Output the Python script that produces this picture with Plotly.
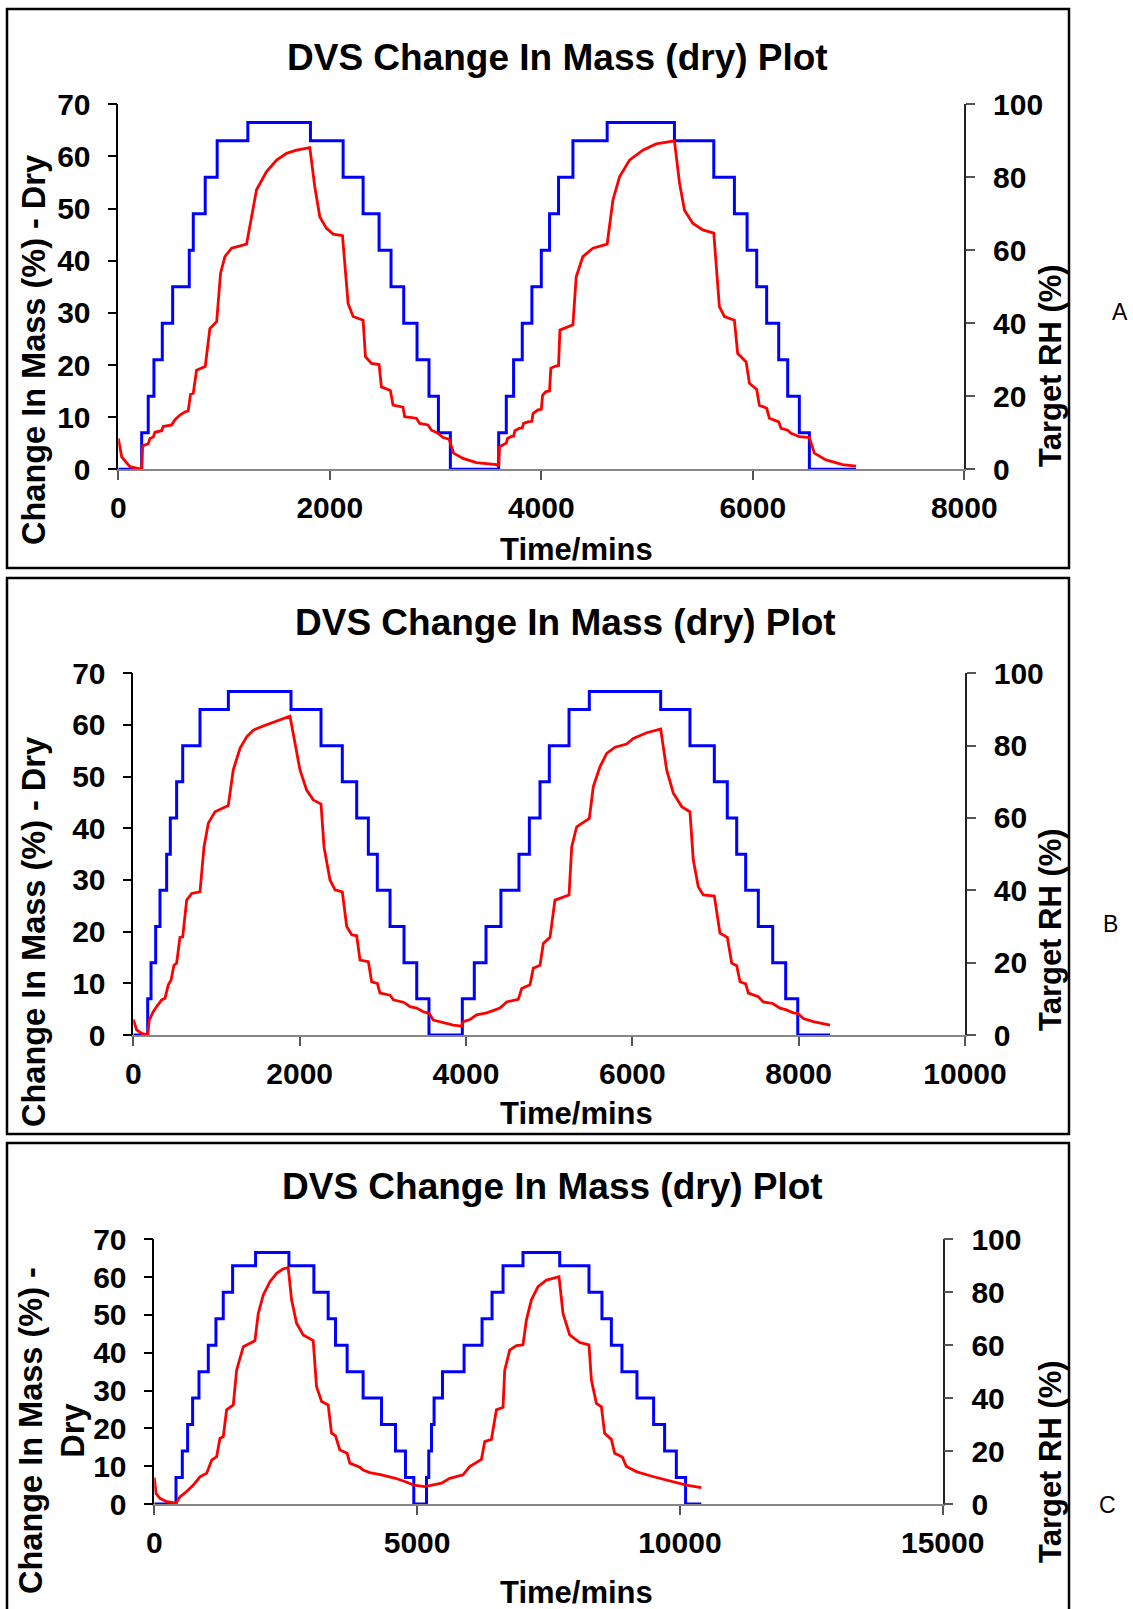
import plotly.graph_objects as go

W, H = 1133, 1609

RH_LEVELS = [0, 10, 20, 30, 40, 50, 60, 70, 80, 90, 95, 90, 80, 70, 60, 50, 40, 30, 20, 10,
             0, 10, 20, 30, 40, 50, 60, 70, 80, 90, 95, 90, 80, 70, 60, 50, 40, 30, 20, 10, 0, 0]

# ---------------- Panel A ----------------
a_rh_time = [0, 221, 283, 337, 416, 514, 671, 709, 822, 935, 1225, 1817, 2126, 2315, 2466, 2579,
             2699, 2825, 2938, 3027, 3140, 3597, 3669, 3738, 3820, 3911, 4000, 4078, 4163, 4299,
             4623, 5259, 5631, 5826, 5946, 6037, 6131, 6245, 6330, 6440, 6535, 6976]
a_rh = RH_LEVELS
a_mass_time = [0, 32, 110, 221, 230, 284, 299, 331, 347, 410, 425, 504, 536, 583, 630, 661, 683,
               709, 740, 822, 866, 930, 967, 1008, 1071, 1213, 1260, 1307, 1402, 1497, 1591, 1685,
               1811, 1858, 1906, 1969, 2032, 2120, 2173, 2220, 2315, 2337, 2394, 2466, 2488, 2573,
               2598, 2692, 2708, 2819, 2850, 2929, 2961, 3024, 3071, 3127, 3171, 3260, 3386, 3575,
               3597, 3605, 3656, 3669, 3680, 3717, 3738, 3750, 3795, 3820, 3832, 3873, 3911, 3922,
               3968, 4000, 4012, 4043, 4078, 4090, 4137, 4163, 4176, 4299, 4330, 4393, 4488,
               4623, 4677, 4740, 4834, 4960, 5086, 5259, 5307, 5354, 5432, 5527, 5631, 5684, 5732,
               5826, 5857, 5937, 5968, 6037, 6062, 6131, 6157, 6245, 6267, 6330, 6362, 6440, 6535,
               6582, 6692, 6849, 6976]
a_mass = [5.9, 2.4, 0.5, 0.0, 4.5, 4.9, 5.9, 6.2, 7.1, 7.4, 8.2, 8.5, 9.5, 10.4, 11.0, 11.2, 14.4,
          14.6, 19.0, 19.7, 27.0, 28.3, 37.6, 40.8, 42.4, 43.2, 48.4, 53.6, 57.1, 59.3, 60.6, 61.2,
          61.7, 54.2, 48.4, 46.2, 45.1, 44.8, 31.8, 29.3, 28.6, 21.6, 20.3, 20.1, 15.8, 15.1,
          12.3, 11.9, 10.1, 9.8, 8.8, 8.5, 7.5, 6.9, 6.1, 5.8, 3.1, 2.1, 1.3, 0.9,
          0.6, 4.3, 4.9, 5.0, 5.9, 6.3, 6.35, 7.4, 7.9, 7.95, 8.8, 9.1, 9.2, 10.7,
          11.4, 11.5, 14.2, 14.9, 15.0, 19.4, 19.8, 19.9, 26.7, 27.7, 36.9, 40.8, 42.4,
          43.2, 51.6, 56.1, 59.3, 61.2, 62.4, 63.0, 54.9, 49.7, 47.2, 45.9, 45.3, 31.2, 29.3,
          28.6, 22.2, 20.6, 16.5, 15.3, 12.3, 11.7, 9.8, 9.1, 7.85, 7.5, 6.9, 6.25, 6.1,
          3.1, 1.8, 0.9, 0.6]

# ---------------- Panel B ----------------
b_rh_time = [0, 173, 213, 269, 321, 401, 445, 521, 594, 802, 1143, 1896, 2257, 2513, 2686, 2826,
             2934, 3087, 3255, 3408, 3555, 3956, 4100, 4241, 4420, 4637, 4762, 4890, 5002, 5239,
             5483, 6341, 6693, 6986, 7142, 7255, 7363, 7515, 7688, 7844, 7989, 8377]
b_rh = RH_LEVELS
b_mass_time = [0, 40, 101, 173, 192, 240, 281, 341, 381, 421, 453, 489, 521, 561, 594, 642, 702,
               802, 850, 902, 982, 1142, 1202, 1283, 1363, 1443, 1563, 1643, 1763, 1884, 1944,
               2004, 2084, 2164, 2257, 2293, 2365, 2425, 2513, 2566, 2626, 2686, 2726, 2826, 2866,
               2934, 2966, 3087, 3127, 3255, 3327, 3407, 3487, 3555, 3607, 3727, 3847, 3948, 3968,
               4048, 4128, 4249, 4329, 4409, 4489, 4629, 4670, 4770, 4809, 4890, 4930, 5010, 5070,
               5239, 5271, 5331, 5483, 5531, 5611, 5692, 5792, 5932, 6012, 6173, 6341, 6413, 6493,
               6594, 6693, 6733, 6793, 6853, 6986, 7054, 7142, 7195, 7255, 7295, 7363, 7395, 7515,
               7575, 7688, 7775, 7844, 7935, 7989, 8056, 8176, 8377]
b_mass = [3.0, 1.0, 0.3, 0.0, 2.9, 4.5, 5.5, 6.8, 7.1, 9.7, 10.6, 13.5, 13.9, 18.9, 19.0, 26.1, 27.4,
          27.7, 36.4, 41.0, 43.2, 44.4, 51.3, 55.5, 57.7, 59.0, 59.8, 60.3, 61.1, 61.7, 56.5,
          51.3, 47.4, 45.5, 44.7, 36.4, 30.0, 28.1, 27.7, 21.0, 19.4, 19.2, 14.5, 14.2, 10.3,
          10.0, 8.1, 7.7, 6.8, 6.3, 5.5, 5.2, 4.5, 4.2, 2.9, 2.4, 1.9, 1.7, 2.6,
          3.0, 3.9, 4.3, 4.8, 5.2, 6.4, 6.9, 9.0, 9.7, 12.9, 13.5, 17.7, 18.9, 26.1,
          27.1, 36.4, 40.3, 41.9, 48.1, 51.9, 54.5, 55.7, 56.3, 57.4, 58.5, 59.2, 51.3, 46.8,
          44.2, 43.2, 33.9, 28.7, 27.1, 26.9, 19.7, 18.9, 13.9, 13.4, 10.3, 9.9, 8.1, 7.4,
          6.4, 6.1, 5.2, 4.9, 4.3, 4.2, 3.2, 2.6, 1.9]

# ---------------- Panel C ----------------
c_rh_time = [0, 413, 533, 634, 729, 850, 1027, 1173, 1312, 1490, 1927, 2561, 3036, 3308, 3448, 3669,
             3973, 4323, 4589, 4779, 4937, 5179, 5222, 5274, 5323, 5483, 5894, 6236, 6426, 6635,
             7015, 7713, 8270, 8517, 8696, 8897, 9183, 9500, 9709, 9932, 10108, 10407]
c_rh = RH_LEVELS
c_mass_time = [0, 32, 108, 235, 413, 489, 616, 742, 869, 996, 1091, 1186, 1249, 1312, 1376, 1503,
               1566, 1693, 1915, 1978, 2073, 2200, 2327, 2452, 2548, 2612, 2707, 2833, 3023, 3087,
               3183, 3308, 3372, 3448, 3530, 3669, 3720, 3910, 3973, 4100, 4323, 4589, 4779, 4937,
               5146, 5463, 5621, 5874, 6001, 6224, 6287, 6414, 6509, 6635, 6667, 6762, 6889, 7015,
               7080, 7175, 7300, 7460, 7700, 7776, 7903, 8093, 8270, 8316, 8411, 8506, 8568, 8696,
               8759, 8905, 8981, 9183, 9500, 9741, 10122, 10407]
c_mass = [7.0, 2.8, 1.5, 0.6, 0.2, 1.9, 3.3, 5.0, 7.2, 8.1, 11.6, 12.5, 17.4, 17.8, 24.9, 26.2,
          35.4, 41.6, 43.2, 50.4, 55.3, 58.8, 61.0, 62.2, 62.5, 54.0, 47.8, 44.7, 43.2, 31.0,
          27.1, 26.2, 18.7, 18.0, 14.3, 13.4, 10.8, 9.7, 9.0, 8.3, 7.7, 6.8, 5.9, 5.0,
          4.6, 5.5, 6.8, 7.7, 9.9, 11.8, 16.5, 17.1, 24.9, 25.6, 35.4, 40.7, 41.9, 42.1,
          48.7, 54.0, 57.5, 59.2, 60.1, 50.4, 44.7, 42.7, 42.1, 32.8, 26.6, 25.7, 18.7, 17.1,
          13.4, 12.4, 9.9, 8.5, 7.2, 6.3, 5.0, 4.3]

TITLE = "DVS Change In Mass (dry) Plot"
X_TITLE = "Time/mins"
Y2_TITLE = "Target RH (%)"
LETTERS = ["A", "B", "C"]
X_MAX = [8000, 10000, 15000]
X_DTICK = [2000, 2000, 5000]
Y_TITLES = ["Change In Mass (%) - Dry", "Change In Mass (%) - Dry", "Change In Mass (%) -<br>Dry"]

# ---------------- layout geometry (pixels) ----------------
layout_px = [
    dict(plot=(118.3, 104.3, 964.3, 469.3), box=(7, 9, 1069, 568), title=(557, 58),
         xtitle=(576, 549), ytitle=(34, 350), y2title=(1050, 366), letter=(1120, 312)),
    dict(plot=(133.3, 673.3, 965.0, 1035.0), box=(7, 578, 1069, 1134), title=(565, 622),
         xtitle=(576, 1113), ytitle=(34, 932), y2title=(1050, 930), letter=(1110, 924)),
    dict(plot=(154.3, 1239.3, 942.7, 1504.0), box=(7, 1143, 1069, 1625), title=(552, 1186),
         xtitle=(576, 1592), ytitle=(52, 1431), y2title=(1050, 1462), letter=(1107, 1505)),
]

FONT = "Liberation Sans, Arial, sans-serif"


def fx(x):
    return x / W


def fy(y):
    return 1 - y / H


series = [(a_rh_time, a_rh, a_mass_time, a_mass),
          (b_rh_time, b_rh, b_mass_time, b_mass),
          (c_rh_time, c_rh, c_mass_time, c_mass)]

fig = go.Figure()
layout = dict(width=W, height=H, margin=dict(l=0, r=0, t=0, b=0, pad=0, autoexpand=False),
              paper_bgcolor="white", plot_bgcolor="rgba(0,0,0,0)", showlegend=False,
              annotations=[], shapes=[])

tick_font = dict(family=FONT, size=30, color="black", weight="bold")
title_font = dict(family=FONT, size=31, color="black", weight="bold")
ytitle_font = dict(family=FONT, size=32.5, color="black", weight="bold")

for i, (rt, rv, mt, mv) in enumerate(series):
    n = i + 1
    g = layout_px[i]
    x0, y0, x1, y1 = g["plot"]
    xname = "x" if n == 1 else f"x{n}"
    yb = 2 * n - 1
    yo = 2 * n
    ybname = "y" if yb == 1 else f"y{yb}"
    yoname = f"y{yo}"

    fig.add_trace(go.Scatter(x=rt, y=rv, mode="lines", line=dict(color="#0000FF", width=3, shape="hv"),
                             xaxis=xname, yaxis=ybname, hoverinfo="skip"))
    fig.add_trace(go.Scatter(x=mt, y=mv, mode="lines", line=dict(color="#FF0000", width=2.8),
                             xaxis=xname, yaxis=yoname, hoverinfo="skip"))

    xkey = "xaxis" if n == 1 else f"xaxis{n}"
    ybkey = "yaxis" if yb == 1 else f"yaxis{yb}"
    yokey = f"yaxis{yo}"

    layout[xkey] = dict(domain=[fx(x0), fx(x1)], anchor=ybname, range=[0, X_MAX[i]],
                        dtick=X_DTICK[i], tick0=0, tickformat="d", showgrid=False, zeroline=False,
                        showline=True, linecolor="#868686", linewidth=2,
                        ticks="outside", ticklen=9, tickwidth=1.5, tickcolor="#555555",
                        tickfont=tick_font, ticklabelstandoff=2, automargin=False,
                        fixedrange=True)
    layout[ybkey] = dict(domain=[fy(y1), fy(y0)], anchor=xname, side="right", range=[0, 100],
                         dtick=20, showgrid=False, zeroline=False, showline=True,
                         linecolor="#222222", linewidth=1.5, ticks="outside", ticklen=9,
                         tickwidth=1.5, tickcolor="#555555", tickfont=tick_font,
                         ticklabelstandoff=12, automargin=False, fixedrange=True)
    layout[yokey] = dict(overlaying=ybname, anchor=xname, side="left", range=[0, 70], dtick=10,
                         showgrid=False, zeroline=False, showline=True, linecolor="black",
                         linewidth=1.5, ticks="outside", ticklen=9, tickwidth=1.5,
                         tickcolor="black", tickfont=tick_font, ticklabelstandoff=11,
                         automargin=False, fixedrange=True)

    bx0, by0, bx1, by1 = g["box"]
    layout["shapes"].append(dict(type="rect", xref="paper", yref="paper", x0=fx(bx0), x1=fx(bx1),
                                 y0=fy(by1), y1=fy(by0), line=dict(color="black", width=2.5)))

    ann = layout["annotations"]
    ann.append(dict(text=TITLE, x=fx(g["title"][0]), y=fy(g["title"][1]), xref="paper", yref="paper",
                    showarrow=False, xanchor="center", yanchor="middle",
                    font=dict(family=FONT, size=37, color="black", weight="bold")))
    ann.append(dict(text=X_TITLE, x=fx(g["xtitle"][0]), y=fy(g["xtitle"][1]), xref="paper",
                    yref="paper", showarrow=False, xanchor="center", yanchor="middle",
                    font=title_font))
    ann.append(dict(text=Y_TITLES[i], x=fx(g["ytitle"][0]), y=fy(g["ytitle"][1]), xref="paper",
                    yref="paper", showarrow=False, xanchor="center", yanchor="middle",
                    textangle=-90, font=ytitle_font))
    ann.append(dict(text=Y2_TITLE, x=fx(g["y2title"][0]), y=fy(g["y2title"][1]), xref="paper",
                    yref="paper", showarrow=False, xanchor="center", yanchor="middle",
                    textangle=-90, font=title_font))
    ann.append(dict(text=LETTERS[i], x=fx(g["letter"][0]), y=fy(g["letter"][1]), xref="paper",
                    yref="paper", showarrow=False, xanchor="center", yanchor="middle",
                    font=dict(family=FONT, size=23, color="black")))

fig.update_layout(**layout)
fig.write_html("out.html")
